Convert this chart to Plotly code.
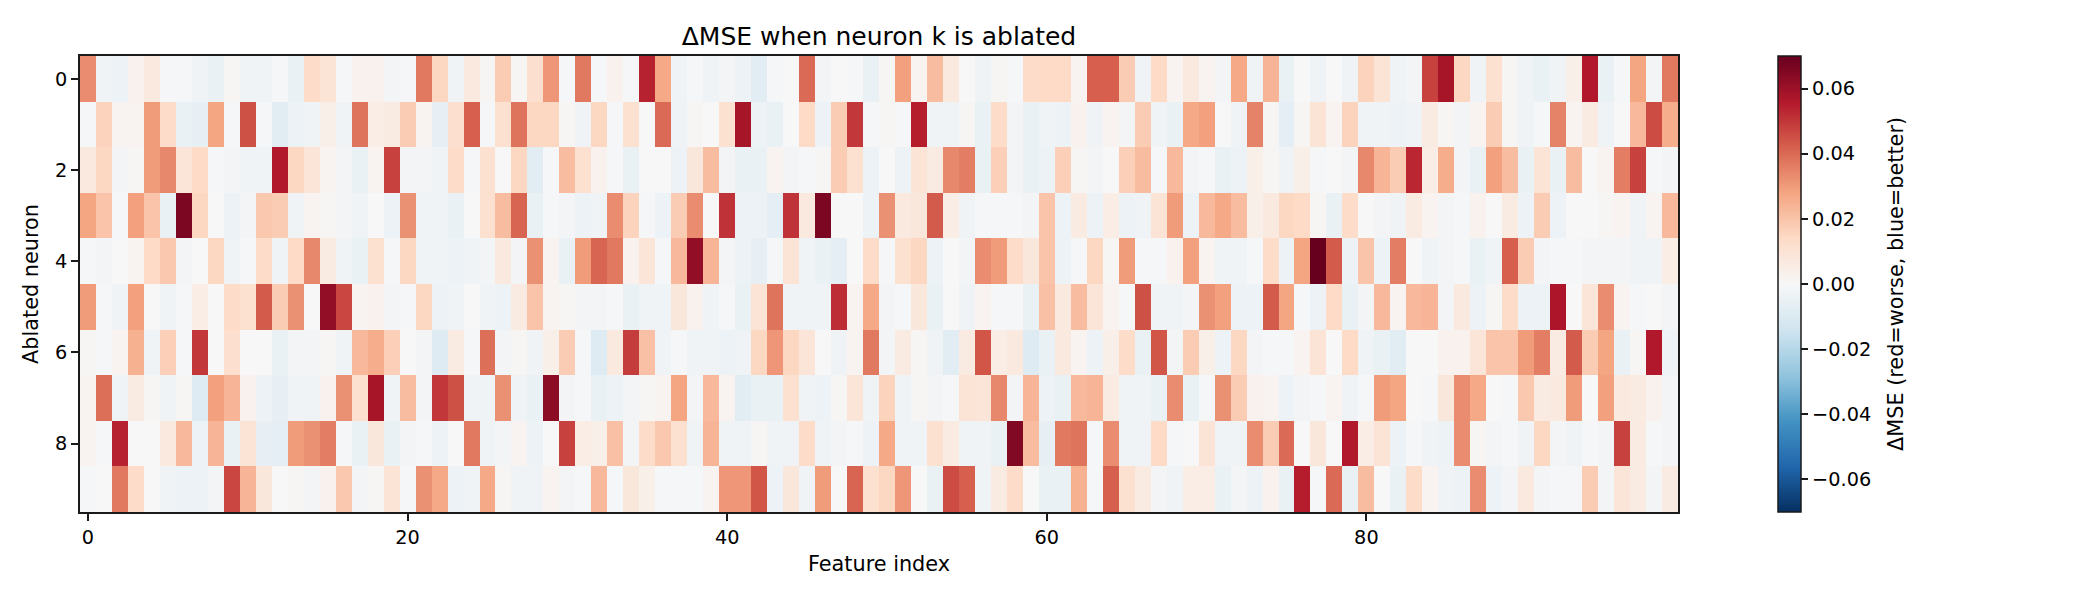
import numpy as np
import plotly.graph_objects as go

# Change in MSE per feature for each ablated neuron, in units of 0.001
neuron_0 = [33,-3,-4,3,7,-1,-1,-3,-5,1,-3,-3,-1,-5,13,10,-1,3,3,-2,-1,37,15,-3,7,1,18,1,12,31,-1,37,-1,3,-1,54,27,-3,-1,-3,-2,-4,-8,-1,0,40,-2,0,-1,-5,1,29,2,22,7,0,-3,1,-1,13,14,14,2,42,42,18,-3,14,2,7,2,-2,27,-3,24,-5,0,-3,0,-3,16,10,-3,-2,48,58,15,-3,11,1,-3,-5,-3,4,56,-5,-1,28,-2,37]
neuron_1 = [-1,16,2,2,30,13,-5,-6,28,-1,45,-1,-8,-4,-3,4,-3,38,5,6,18,2,-6,12,42,-1,11,38,15,15,1,-3,15,-1,11,0,40,-3,1,0,11,58,-4,-5,0,14,-4,18,50,-1,1,-1,55,-3,-3,1,-5,13,-2,-5,-3,-4,3,-3,2,-2,18,-3,-5,27,29,0,-3,35,1,-7,1,10,2,16,-3,-3,-4,-3,6,1,-2,2,18,1,-3,-1,35,2,6,-3,0,23,46,26]
neuron_2 = [7,15,-2,1,30,34,9,14,-1,-2,-3,-3,56,15,9,2,-2,-5,2,48,-2,-2,-3,13,-1,11,0,15,-8,-1,22,11,3,-1,-5,0,0,-4,8,22,-2,-5,-5,2,-2,-1,1,18,11,-4,0,-4,10,6,34,36,-5,17,-2,-5,-4,17,1,-2,0,17,22,-1,23,-2,-1,-5,-4,4,1,-3,4,-1,0,-2,34,24,18,53,5,26,-2,-5,29,22,-5,10,-5,22,0,2,36,48,-1,-2]
neuron_3 = [28,20,-1,29,20,-5,66,15,0,-4,-2,19,18,-3,2,1,-2,-3,0,-4,32,-3,-3,-5,0,11,22,41,-5,-1,-2,-4,-3,33,16,-1,-4,18,33,0,51,-4,-4,-7,51,7,66,0,0,-4,32,7,8,43,5,-3,-1,-1,-1,-2,20,-4,6,-4,5,-4,-3,10,30,-4,23,27,22,4,7,15,14,1,-5,13,0,-2,-3,6,2,-2,-1,3,0,6,-4,18,-4,0,0,1,2,-3,2,23]
neuron_4 = [-1,-2,0,2,14,19,-2,0,15,-3,-1,13,-3,14,34,6,-3,-5,11,-1,15,-3,-3,-4,-3,-2,7,-2,32,2,-5,30,41,37,3,9,-1,23,62,24,-2,-4,-6,-1,10,-3,-5,-7,0,13,-1,11,15,-4,0,-2,33,30,13,8,20,-4,-1,15,1,30,-1,-1,3,29,2,-3,-3,-1,13,-4,28,70,43,-4,20,-4,36,0,-3,-2,-1,-5,-3,42,18,-2,-1,-1,-2,-2,-2,-3,-3,5]
neuron_5 = [30,-1,-3,29,0,-3,-1,5,0,13,11,43,18,32,0,62,47,2,3,-2,-1,15,-4,-3,0,-3,-4,6,20,2,1,-2,-2,-1,-5,-3,-3,8,3,-3,-1,-5,10,38,-3,-3,-3,52,2,27,-2,-1,8,-5,0,-3,2,-1,-1,-5,21,7,22,9,2,-1,45,-3,-3,-2,32,29,-4,-4,43,28,-1,-4,14,-5,-2,23,2,23,24,-2,7,-4,1,13,-4,-4,57,0,9,33,2,-1,0,-2]
neuron_6 = [1,-1,2,25,-3,17,-1,50,0,12,0,0,-5,-2,-2,1,-3,23,26,17,0,-2,-9,6,-1,39,-2,1,-3,4,18,-1,-9,7,49,21,-3,-1,-3,-3,-4,-3,15,31,15,9,0,-3,2,37,-2,6,1,-3,-8,6,44,5,7,-9,-5,7,2,-4,4,13,-5,44,-2,18,4,-4,15,-2,-1,-1,2,10,0,14,-3,-5,-8,0,0,3,3,9,20,20,30,36,6,43,18,28,-5,1,56,-3]
neuron_7 = [2,39,-3,6,1,-3,1,-9,29,24,3,-4,-6,-3,-3,3,32,11,58,-3,22,-2,50,45,-3,-3,32,-3,-5,63,-2,-1,-5,-4,-2,1,2,28,-2,23,2,-8,-5,-5,11,-3,-4,1,9,-3,16,-3,1,-2,-1,10,9,34,-2,24,-4,-5,23,24,6,-3,-3,-5,33,-5,-1,32,18,3,2,-4,-2,-1,2,-3,-1,30,28,0,-1,8,33,27,0,-1,19,6,7,30,0,29,7,6,3,-2]
neuron_8 = [2,-1,54,0,0,7,23,-4,24,-5,10,-6,-7,30,32,36,-1,-5,8,-5,-2,-1,-4,0,37,-3,-2,2,-4,0,48,5,4,21,-2,13,19,11,-3,24,-3,-3,1,-3,-3,13,-3,-2,-1,-4,27,-3,-3,11,6,-3,-3,-5,65,22,-6,37,38,-1,33,-3,-3,14,-1,0,10,-3,-3,33,18,40,0,8,0,56,5,10,-4,-1,-3,-4,33,1,-2,-1,-3,15,-2,-3,-1,-2,48,6,-1,-2]
neuron_9 = [-1,0,37,13,0,-3,-4,-4,-2,47,24,8,0,1,-2,3,19,-2,1,10,-1,32,27,-4,-3,27,1,-3,-3,2,-2,-1,23,-1,8,4,-1,-1,-1,2,31,31,44,-4,8,-3,30,0,41,11,15,31,0,-5,46,42,-3,6,13,0,-5,-5,25,-1,42,11,6,-2,-3,5,5,-5,-2,-4,3,-5,55,-1,40,-5,22,0,-5,13,2,-3,-4,33,-4,-2,7,-2,-1,-1,18,-2,9,6,-2,6]

neuron_rows = [neuron_0, neuron_1, neuron_2, neuron_3, neuron_4,
               neuron_5, neuron_6, neuron_7, neuron_8, neuron_9]
delta_mse = np.array(neuron_rows) / 1000.0

x_ticks = [0, 20, 40, 60, 80]
y_ticks = [0, 2, 4, 6, 8]
bar_ticks = [-0.06, -0.04, -0.02, 0.0, 0.02, 0.04, 0.06]

# Red-to-blue diverging scale, centred on zero
rdbu_reversed = [
    [0.0, "#053061"], [0.1, "#2166ac"], [0.2, "#4393c3"], [0.3, "#92c5de"],
    [0.4, "#d1e5f0"], [0.5, "#f7f7f7"], [0.6, "#fddbc7"], [0.7, "#f4a582"],
    [0.8, "#d6604d"], [0.9, "#b2182b"], [1.0, "#67001f"],
]

FONT = "DejaVu Sans"
INK = "#1a1a1a"
TICK_SIZE = 19.3
LABEL_SIZE = 20.8

fig = go.Figure(go.Heatmap(
    z=delta_mse,
    colorscale=rdbu_reversed,
    zmin=-0.07,
    zmax=0.07,
    colorbar=dict(
        x=1.0626, xanchor="left", xref="paper",
        y=0.5, yanchor="middle", yref="paper",
        len=1, lenmode="fraction",
        thickness=23, thicknessmode="pixels",
        xpad=0, ypad=0,
        outlinecolor=INK, outlinewidth=1.5,
        ticks="outside", ticklen=7, tickwidth=1.5, tickcolor=INK,
        tickmode="array", tickvals=bar_ticks, tickformat=".2f",
        tickfont=dict(family=FONT, size=TICK_SIZE, color="black"),
    ),
))

axis_style = dict(
    showgrid=False, zeroline=False, showline=True, mirror=True,
    linecolor=INK, linewidth=1.5,
    ticks="outside", ticklen=7, tickwidth=1.5, tickcolor=INK,
    tickfont=dict(family=FONT, size=TICK_SIZE, color="black"),
)

fig.update_layout(
    width=2100, height=600, autosize=False,
    margin=dict(l=80, r=422, t=55.5, b=87.5, autoexpand=False),
    paper_bgcolor="white", plot_bgcolor="white",
    title=dict(text="ΔMSE when neuron k is ablated",
               x=0.5, xref="paper", xanchor="center",
               y=0.94, yref="container", yanchor="middle",
               font=dict(family=FONT, size=25, color="black")),
    xaxis=dict(range=[-0.5, 99.5], tickmode="array", tickvals=x_ticks,
               title=dict(text="Feature index", standoff=9,
                          font=dict(family=FONT, size=LABEL_SIZE, color="black")),
               **axis_style),
    yaxis=dict(range=[9.5, -0.5], tickmode="array", tickvals=y_ticks,
               title=dict(text="Ablated neuron", standoff=11,
                          font=dict(family=FONT, size=LABEL_SIZE, color="black")),
               **axis_style),
    annotations=[dict(
        text="ΔMSE (red=worse, blue=better)", textangle=-90, showarrow=False,
        xref="paper", yref="paper", x=1.1364, y=0.5,
        xanchor="center", yanchor="middle",
        font=dict(family=FONT, size=LABEL_SIZE, color="black"),
    )],
)

fig.write_html("out.html")
